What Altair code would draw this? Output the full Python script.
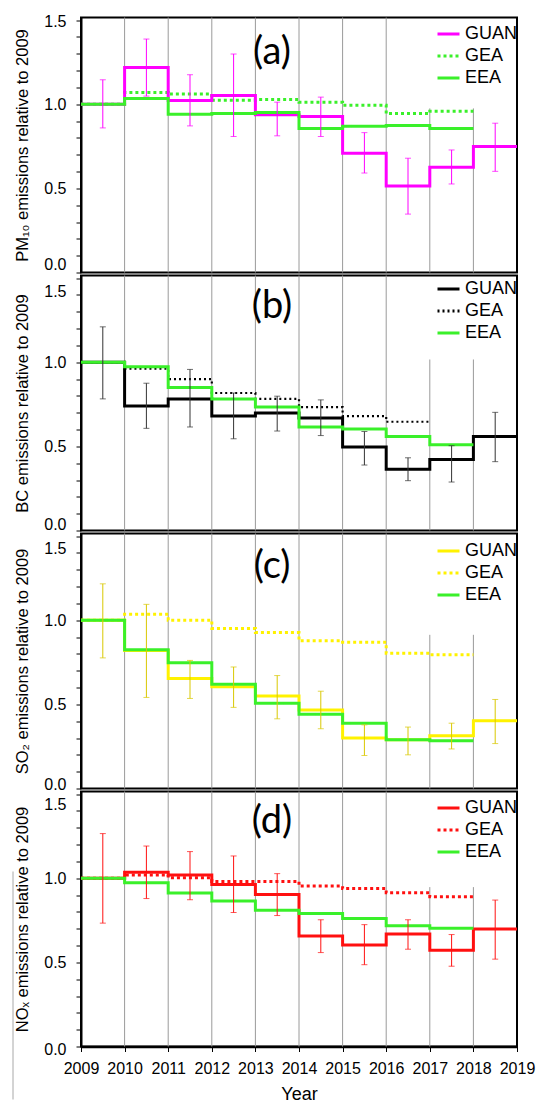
import altair as alt
import pandas as pd

# ---------------- data ----------------
years = [2009, 2010, 2011, 2012, 2013, 2014, 2015, 2016, 2017, 2018]
year_ticks = [2009, 2010, 2011, 2012, 2013, 2014, 2015, 2016, 2017, 2018, 2019]
series = ["GUAN", "GEA", "EEA"]
y_ticks = [0.0, 0.1, 0.2, 0.3, 0.4, 0.5, 0.6, 0.7, 0.8, 0.9, 1.0, 1.1, 1.2, 1.3, 1.4, 1.5]
grid_years = [2010, 2011, 2012, 2013, 2014, 2015, 2016, 2017, 2018]

# (a) PM10
pm10_guan = [1.0, 1.218, 1.022, 1.052, 0.937, 0.927, 0.708, 0.514, 0.625, 0.748]
pm10_lo = [0.859, 1.048, 0.871, 0.808, 0.812, 0.808, 0.591, 0.347, 0.526, 0.601]
pm10_hi = [1.145, 1.387, 1.175, 1.298, 1.012, 1.042, 0.831, 0.679, 0.728, 0.887]
pm10_gea = [1.0, 1.069, 1.06, 1.024, 1.028, 1.012, 0.994, 0.944, 0.958]
pm10_eea = [1.0, 1.034, 0.94, 0.944, 0.95, 0.855, 0.869, 0.873, 0.855]

# (b) BC
bc_guan = [1.0, 0.739, 0.782, 0.681, 0.698, 0.669, 0.496, 0.364, 0.422, 0.558]
bc_lo = [0.782, 0.607, 0.615, 0.545, 0.591, 0.564, 0.389, 0.296, 0.288, 0.409]
bc_hi = [1.21, 0.875, 0.957, 0.817, 0.798, 0.776, 0.588, 0.432, 0.504, 0.702]
bc_gea = [1.0, 0.961, 0.899, 0.817, 0.782, 0.733, 0.679, 0.646]
bc_eea = [1.0, 0.973, 0.85, 0.782, 0.733, 0.615, 0.603, 0.558, 0.51]

# (c) SO2
so2_guan = [1.0, 0.82, 0.653, 0.604, 0.549, 0.467, 0.3, 0.29, 0.314, 0.402]
so2_lo = [0.776, 0.541, 0.535, 0.482, 0.414, 0.355, 0.196, 0.2, 0.235, 0.267]
so2_hi = [1.216, 1.094, 0.761, 0.722, 0.671, 0.578, 0.378, 0.365, 0.388, 0.529]
so2_gea = [1.0, 1.035, 1.0, 0.951, 0.927, 0.878, 0.869, 0.804, 0.794]
so2_eea = [1.0, 0.824, 0.747, 0.62, 0.506, 0.441, 0.388, 0.29, 0.284]

# (d) NOx
nox_guan = [1.0, 1.035, 1.019, 0.963, 0.903, 0.656, 0.603, 0.669, 0.572, 0.698]
nox_lo = [0.733, 0.879, 0.872, 0.796, 0.778, 0.558, 0.486, 0.578, 0.477, 0.519]
nox_hi = [1.265, 1.191, 1.158, 1.132, 1.027, 0.753, 0.724, 0.753, 0.665, 0.87]
nox_gea = [1.0, 1.019, 1.002, 0.981, 0.981, 0.953, 0.938, 0.914, 0.889]
nox_eea = [1.0, 0.973, 0.912, 0.864, 0.809, 0.79, 0.761, 0.718, 0.702]

# top of the 2017/2018 grid lines (hidden behind the legend above this)
grid_cut = [0.975, 1.016, 0.913, 0.947]

# ---------------- styling ----------------
Y_MAX = 1.515
W, H = 436, 255
GREEN = "#3AF02A"
FONT = "Liberation Sans"

panels = [
    dict(letter="(a)", title="PM₁₀ emissions relative to 2009", guan=pm10_guan, lo=pm10_lo,
         hi=pm10_hi, gea=pm10_gea, eea=pm10_eea, c_guan="#FF00FF", c_gea=GREEN,
         c_bar="#FF00FF", dash=[3, 3], gea_w=3, ly=35, legy=4, off_top=1, off_bot=-8),
    dict(letter="(b)", title="BC emissions relative to 2009", guan=bc_guan, lo=bc_lo,
         hi=bc_hi, gea=bc_gea, eea=bc_eea, c_guan="#000000", c_gea="#000000",
         c_bar="#333333", dash=[2, 3], gea_w=2.2, ly=31, legy=1, off_top=13, off_bot=-6),
    dict(letter="(c)", title="SO₂ emissions relative to 2009", guan=so2_guan, lo=so2_lo,
         hi=so2_hi, gea=so2_gea, eea=so2_eea, c_guan="#FFF200", c_gea="#FFF200",
         c_bar="#D9C800", dash=[3, 3], gea_w=3, ly=33, legy=5, off_top=12, off_bot=-4),
    dict(letter="(d)", title="NOₓ emissions relative to 2009", guan=nox_guan, lo=nox_lo,
         hi=nox_hi, gea=nox_gea, eea=nox_eea, c_guan="#FF1010", c_gea="#FF1010",
         c_bar="#FF1010", dash=[3, 3], gea_w=3, ly=30, legy=4, off_top=10, off_bot=3),
]


def steps(vals, name):
    xs = [years[0] + i for i in range(len(vals))] + [years[0] + len(vals)]
    ys = list(vals) + [vals[-1]]
    return [{"series": name, "x": x, "y": y} for x, y in zip(xs, ys)]


def make_panel(i, p, bottom):
    rows = steps(p["gea"], "GEA") + steps(p["guan"], "GUAN") + steps(p["eea"], "EEA")
    lines_df = pd.DataFrame(rows)
    err_df = pd.DataFrame({"x": [y + 0.5 for y in years], "lo": p["lo"], "hi": p["hi"]})
    grid_df = pd.DataFrame({
        "x": grid_years,
        "y0": [0.0] * len(grid_years),
        "y1": [Y_MAX if g < 2017 else grid_cut[i] for g in grid_years],
    })
    text_df = pd.DataFrame({"t": [p["letter"]]})

    if bottom:
        xaxis = alt.Axis(values=year_ticks, format="d", labelFlush=False, grid=False,
                         tickSize=5, tickColor="black", domainColor="black", domainWidth=2.5,
                         labelFont=FONT, labelFontSize=16, labelColor="black", labelPadding=9,
                         title="Year", titleFont=FONT, titleFontSize=18,
                         titleFontWeight="normal", titleColor="black", titlePadding=9)
    else:
        xaxis = None
    X = lambda f: alt.X(f, scale=alt.Scale(domain=[2009, 2019], nice=False, zero=False),
                        axis=xaxis)

    yaxis = alt.Axis(
        title=p["title"], values=y_ticks,
        labelExpr="abs(datum.value*2 - round(datum.value*2)) < 0.001 ? format(datum.value, '.1f') : ''",
        labelOverlap=False, grid=False, tickSize=5, tickColor="black", tickWidth=1,
        domainColor="black", domainWidth=2, labelFont=FONT, labelFontSize=16,
        labelColor="black", labelPadding=10, minExtent=37, maxExtent=37,
        labelOffset={"condition": [{"test": "datum.value > 1.45", "value": p["off_top"]},
                                   {"test": "datum.value < 0.05", "value": p["off_bot"]}],
                     "value": 0},
        titleFont=FONT, titleFontSize=16.5, titleFontWeight="normal", titleColor="black",
        titlePadding=14)
    Y = lambda f: alt.Y(f, scale=alt.Scale(domain=[0, Y_MAX], nice=False, zero=False),
                        axis=yaxis)

    leg = alt.Legend(title=None, orient="none", legendX=355, legendY=p["legy"],
                     labelFont=FONT, labelFontSize=18, labelColor="black",
                     symbolType="stroke", symbolSize=484, symbolStrokeWidth=3,
                     labelOffset=4, rowPadding=0, padding=0)
    color = alt.Color("series:N", scale=alt.Scale(domain=series,
                      range=[p["c_guan"], p["c_gea"], GREEN]), legend=leg)
    dash = alt.StrokeDash("series:N", scale=alt.Scale(domain=series,
                          range=[[1, 0], p["dash"], [1, 0]]), legend=leg)

    grid = alt.Chart(grid_df).mark_rule(color="#9A9A9A", strokeWidth=1).encode(
        x=X("x:Q"), y=Y("y0:Q"), y2="y1:Q")

    def line(name, w):
        return alt.Chart(lines_df).transform_filter(alt.datum.series == name).mark_line(
            interpolate="step-after", strokeWidth=w, strokeCap="butt").encode(
            x=X("x:Q"), y=Y("y:Q"), color=color, strokeDash=dash)

    bars = alt.Chart(err_df).mark_rule(color=p["c_bar"], strokeWidth=1).encode(
        x=X("x:Q"), y=Y("lo:Q"), y2="hi:Q")
    caps = alt.Chart(err_df).transform_fold(["lo", "hi"], as_=["k", "v"]).mark_tick(
        orient="horizontal", color=p["c_bar"], size=6, thickness=1).encode(
        x=X("x:Q"), y=Y("v:Q"))
    label = alt.Chart(text_df).mark_text(font="Lato", fontSize=38, color="black",
                                         align="center", baseline="middle").encode(
        text="t:N", x=alt.value(191), y=alt.value(p["ly"]))

    layers = [grid, line("GEA", p["gea_w"]), line("GUAN", 3), line("EEA", 3), bars, caps, label]
    if bottom:
        # thin gray frame line at the far left of the original figure
        edge = alt.Chart(text_df).mark_rule(color="#A8A8A8", strokeWidth=1).encode(
            x=alt.value(-68), y=alt.value(80), y2=alt.value(308))
        layers.append(edge)
    return alt.layer(*layers).properties(width=W, height=H)


charts = [make_panel(i, p, i == len(panels) - 1) for i, p in enumerate(panels)]

chart = alt.vconcat(*charts, spacing=3, bounds="flush").resolve_scale(
    x="independent", y="independent", color="independent", strokeDash="independent"
).configure_view(stroke="black", strokeWidth=2).properties(
    padding={"left": 3, "top": 3.5, "right": 0, "bottom": 0}, background="white")

chart.save("out.html", embed_options={"renderer": "svg", "actions": False})
